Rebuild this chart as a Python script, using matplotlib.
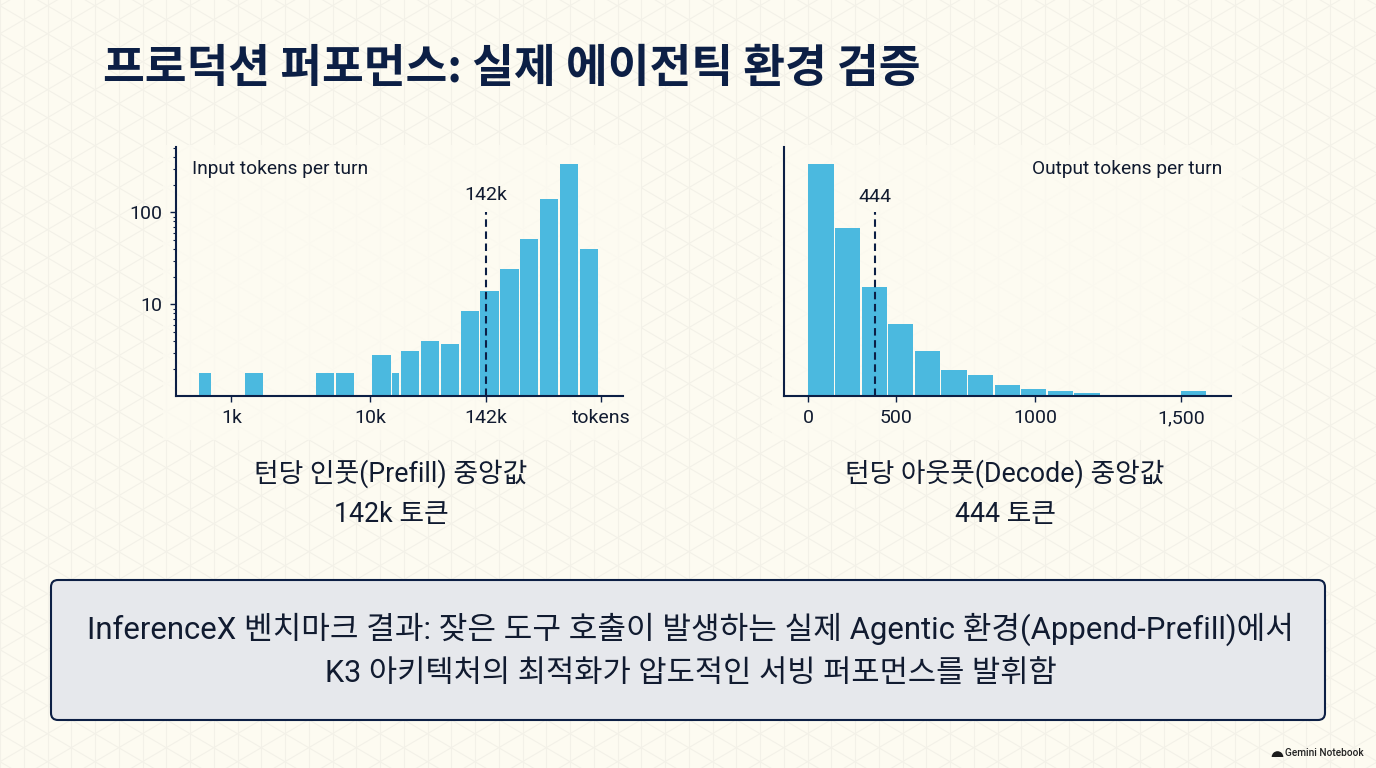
import numpy as np
import matplotlib
matplotlib.use("Agg")
import matplotlib.pyplot as plt
from matplotlib.patches import FancyBboxPatch, Rectangle, Wedge

plt.rcParams['font.family'] = ['Roboto', 'Noto Sans CJK KR', 'DejaVu Sans']

NAVY = "#0c1f45"
INK = "#111b30"
BLUE = "#4bb9df"
CREAM = "#fdfbf1"

input_left = [2.770, 3.097, 3.608, 3.752, 4.013, 4.155, 4.217, 4.361, 4.505, 4.649,
              4.788, 4.932, 5.076, 5.219, 5.363, 5.507]
input_right = [2.853, 3.229, 3.740, 3.883, 4.147, 4.205, 4.349, 4.493, 4.637, 4.781,
               4.922, 5.066, 5.207, 5.351, 5.495, 5.639]
input_counts = [1.8, 1.8, 1.8, 1.8, 2.8, 1.8, 3.1, 4.0, 3.7, 8.4,
                13.9, 24.3, 51.5, 141, 339, 39.8]
input_ticks = [3.0, 4.0, 4.83, 5.66]
input_labels = ["1k", "10k", "142k", "tokens"]
input_median = 4.83

# Output histogram, x is the bin number along the axis
output_bins = [0, 1, 2, 3, 4, 5, 6, 7, 8, 9, 10, 14]
output_counts = [232, 168, 108.5, 72, 45, 25.5, 21, 11, 7, 4.5, 3, 4.5]
output_ticks = [0, 3.29, 8.53, 14.0]
output_labels = ["0", "500", "1000", "1,500"]
output_median = 2.49

W, H = 1376, 768
fig = plt.figure(figsize=(W / 100, H / 100), dpi=100, facecolor=CREAM)

# Background layer in pixel coordinates
bg = fig.add_axes([0, 0, 1, 1], zorder=0)
bg.set_xlim(0, W)
bg.set_ylim(H, 0)
bg.axis("off")

grid_color = "#f3f1e8"
step = 23.75
rise = 14.0
for i in range(0, 60):
    bg.plot([i * step] * 2, [0, H], color=grid_color, lw=0.8, zorder=1)
for k in range(-60, 90):
    c = k * 2 * rise + 5.7
    bg.plot([0, W], [c, c + W * rise / step], color=grid_color, lw=0.8, zorder=1)
    bg.plot([0, W], [c, c - W * rise / step], color=grid_color, lw=0.8, zorder=1)

# soft panels behind the charts
bg.add_patch(Rectangle((163, 145), 478, 295, fc=CREAM, ec="none", alpha=0.8, zorder=2))
bg.add_patch(Rectangle((772, 145), 470, 295, fc=CREAM, ec="none", alpha=0.8, zorder=2))

bg.text(103, 69, "프로덕션 퍼포먼스: 실제 에이전틱 환경 검증", fontsize=32.7, fontweight="bold",
        color=NAVY, va="center", ha="left", family=['Noto Sans CJK KR', 'DejaVu Sans'], zorder=5)

cap_font = ['Roboto', 'Noto Sans CJK KR']
bg.text(391, 474, "턴당 인풋(Prefill) 중앙값", fontsize=19.3, color=INK, ha="center", va="center", family=cap_font, zorder=5)
bg.text(391, 514, "142k 토큰", fontsize=19.3, color=INK, ha="center", va="center", family=cap_font, zorder=5)
bg.text(1005, 474, "턴당 아웃풋(Decode) 중앙값", fontsize=19.3, color=INK, ha="center", va="center", family=cap_font, zorder=5)
bg.text(1005, 514, "444 토큰", fontsize=19.3, color=INK, ha="center", va="center", family=cap_font, zorder=5)

bg.add_patch(FancyBboxPatch((58, 587), 1260, 126, boxstyle="round,pad=7,rounding_size=7",
                            fc="#e6e8ec", ec=NAVY, lw=1.5, zorder=4))
bg.text(690.5, 629, "InferenceX 벤치마크 결과: 잦은 도구 호출이 발생하는 실제 Agentic 환경(Append-Prefill)에서",
        fontsize=22.4, color=INK, ha="center", va="center", family=cap_font, zorder=5)
bg.text(691, 674, "K3 아키텍처의 최적화가 압도적인 서빙 퍼포먼스를 발휘함",
        fontsize=22.1, color=INK, ha="center", va="center", family=cap_font, zorder=5)

# small logo bottom right
bg.add_patch(Wedge((1277.5, 757), 5.8, 180, 360, fc="#1b1b1b", ec="none", zorder=5))
bg.text(1285, 753, "Gemini Notebook", fontsize=7.3, fontweight="medium", color="#222222",
        ha="left", va="center", family="Roboto", zorder=5)


def make_axes(left, right, top, bottom):
    ax = fig.add_axes([left / W, 1 - bottom / H, (right - left) / W, (bottom - top) / H], zorder=2)
    ax.patch.set_alpha(0)
    ax.spines["top"].set_visible(False)
    ax.spines["right"].set_visible(False)
    ax.spines["left"].set_color(NAVY)
    ax.spines["bottom"].set_color(NAVY)
    ax.spines["left"].set_linewidth(1.5)
    ax.spines["bottom"].set_linewidth(1.5)
    ax.tick_params(axis="x", length=4, width=1, color=NAVY, labelcolor=INK, labelsize=14, pad=6)
    ax.tick_params(axis="y", which="major", length=4, width=1, color=NAVY, labelcolor=INK, labelsize=14, pad=6)
    ax.tick_params(axis="y", which="minor", length=2.2, width=0.8, color=NAVY)
    return ax


# Input tokens chart
ax1 = make_axes(176, 623, 147, 395.5)
ax1.set_yscale("log")
ax1.set_xlim(2.601, 5.817)
ax1.set_ylim(1.025, 514)
left = np.array(input_left)
right = np.array(input_right)
ax1.bar(left, input_counts, width=right - left, align="edge", color=BLUE, bottom=0.01, zorder=2)
ax1.plot([input_median, input_median], [1.025, 100], color=NAVY, lw=1.5, ls=(0, (3.6, 2.2)), zorder=3)
ax1.text(input_median, 122, "142k", fontsize=14, color=INK, ha="center", va="bottom")
ax1.text(192, 168.5, "Input tokens per turn", fontsize=13.75, color=INK, ha="left", va="center",
         transform=bg.transData)
ax1.set_xticks(input_ticks)
ax1.set_xticklabels(input_labels)
ax1.set_yticks([10, 100])
ax1.set_yticklabels(["10", "100"])
ax1.set_yticks([2, 3, 4, 5, 6, 7, 8, 9, 20, 30, 40, 50, 60, 70, 80, 90, 200, 300, 400, 500], minor=True)
ax1.set_yticklabels([], minor=True)

# Output tokens chart
ax2 = make_axes(784, 1231, 147, 395.5)
ax2.set_xlim(-0.914, 15.89)
ax2.set_ylim(0, 248.5)
ax2.bar(output_bins, output_counts, width=0.95, align="edge", color=BLUE, zorder=2)
ax2.plot([output_median, output_median], [0, 183.5], color=NAVY, lw=1.5, ls=(0, (3.6, 2.2)), zorder=3)
ax2.text(output_median, 190, "444", fontsize=14, color=INK, ha="center", va="bottom")
ax2.text(1222, 168.5, "Output tokens per turn", fontsize=13.75, color=INK, ha="right", va="center",
         transform=bg.transData)
ax2.set_xticks(output_ticks)
ax2.set_xticklabels(output_labels)
ax2.set_yticks([])

fig.savefig("out.png", dpi=100, facecolor=CREAM)
